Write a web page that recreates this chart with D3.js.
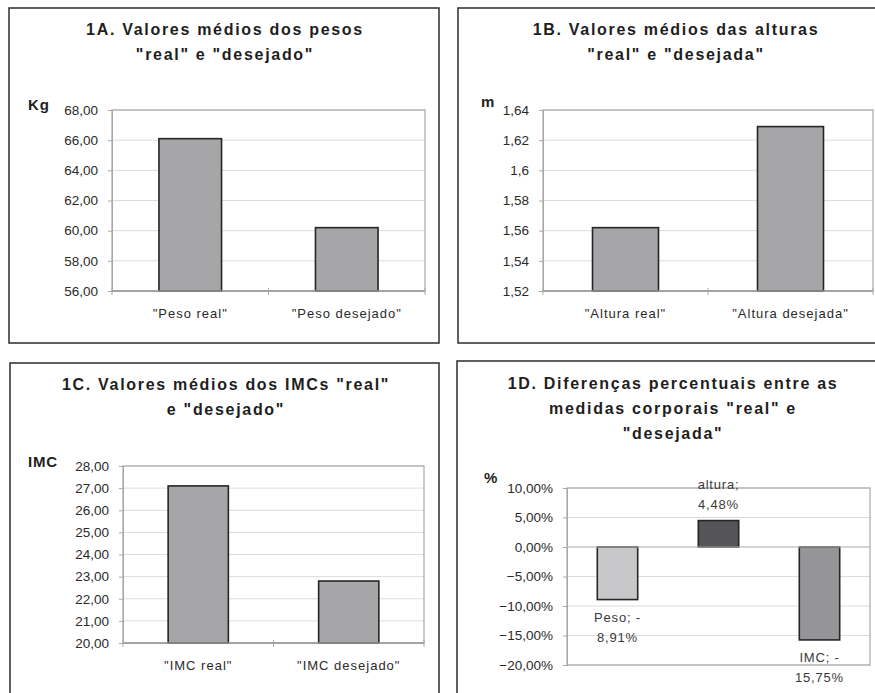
<!DOCTYPE html>
<html><head><meta charset="utf-8">
<script src="https://cdn.jsdelivr.net/npm/d3@7"></script>
<style>
body{margin:0;background:#fff;}
svg{display:block;font-family:"Liberation Sans",Arial,sans-serif;}
</style></head>
<body><svg id="c" width="875" height="693"></svg>
<script>
// ---- Data ----
const catsA = ['"Peso real"', '"Peso desejado"'];
const valsA = [66.1, 60.2];
const ticksA = [56, 58, 60, 62, 64, 66, 68];

const catsB = ['"Altura real"', '"Altura desejada"'];
const valsB = [1.562, 1.629];
const ticksB = [1.52, 1.54, 1.56, 1.58, 1.6, 1.62, 1.64];

const catsC = ['"IMC real"', '"IMC desejado"'];
const valsC = [27.1, 22.8];
const ticksC = [20, 21, 22, 23, 24, 25, 26, 27, 28];

const catsD = ['Peso', 'altura', 'IMC'];
const valsD = [-8.91, 4.48, -15.75];
const labelsD = [['Peso; -', '8,91%'], ['altura;', '4,48%'], ['IMC; -', '15,75%']];
const ticksD = [-20, -15, -10, -5, 0, 5, 10];

const svg = d3.select('#c');
const comma = s => s.replace('.', ',');
const f2 = v => comma(d3.format('.2f')(v));
const fg = v => comma(d3.format('~g')(v));
const fp = v => comma(d3.format('.2f')(v)) + '%';

function panel(o) {
  const g = svg.append('g');
  g.append('rect').attr('x', o.box[0]).attr('y', o.box[1])
    .attr('width', o.box[2] - o.box[0]).attr('height', o.box[3] - o.box[1])
    .attr('fill', '#fff').attr('stroke', '#3a3a3a').attr('stroke-width', 1.6);
  o.title.forEach((t, i) => {
    g.append('text').attr('x', o.tx).attr('y', o.ty + i * 25)
      .attr('text-anchor', 'middle').attr('font-weight', 'bold')
      .attr('font-size', 16).attr('letter-spacing', 1.7).attr('fill', '#1e1e1e').text(t);
  });
  g.append('text').attr('x', o.unit[0]).attr('y', o.unit[1])
    .attr('font-weight', 'bold').attr('font-size', 15).attr('letter-spacing', 0.8)
    .attr('fill', '#1e1e1e').text(o.unit[2]);

  const [x0, y0, x1, y1] = o.plot;
  const x = d3.scaleBand().domain(o.cats).range([x0, x1]).paddingInner(0.6).paddingOuter(0.3);
  const y = d3.scaleLinear().domain(d3.extent(o.ticks)).range([y1, y0]);

  // gridlines
  g.append('g').selectAll('line').data(o.ticks).join('line')
    .attr('x1', x0).attr('x2', x1).attr('y1', d => y(d)).attr('y2', d => y(d))
    .attr('stroke', '#dcdcdc').attr('stroke-width', 1);
  g.append('rect').attr('x', x0).attr('y', y0).attr('width', x1 - x0).attr('height', y1 - y0)
    .attr('fill', 'none').attr('stroke', '#a8a8a8').attr('stroke-width', 1.2);

  // y axis
  const ya = g.append('g').attr('transform', `translate(${x0},0)`)
    .call(d3.axisLeft(y).tickValues(o.ticks).tickFormat(o.fmt).tickSize(4).tickPadding(10));
  ya.select('.domain').attr('stroke', '#a8a8a8');
  ya.selectAll('.tick line').attr('stroke', '#a8a8a8');
  ya.selectAll('text').attr('font-size', 13.5).attr('fill', '#2a2a2a')
    .attr('font-family', '"Liberation Sans",Arial,sans-serif');

  // bars
  g.append('g').selectAll('rect').data(o.vals).join('rect')
    .attr('x', (d, i) => x(o.cats[i])).attr('width', x.bandwidth())
    .attr('y', d => y(Math.max(d, o.base))).attr('height', d => Math.abs(y(d) - y(o.base)))
    .attr('fill', (d, i) => o.colors[i]).attr('stroke', '#262626').attr('stroke-width', 1.6);

  if (o.base === o.ticks[0]) {
    const seps = d3.range(o.cats.length + 1).map(i => x0 + i * (x1 - x0) / o.cats.length);
    g.append('line').attr('x1', x0).attr('x2', x1).attr('y1', y1).attr('y2', y1)
      .attr('stroke', '#999').attr('stroke-width', 1.4);
    g.append('g').selectAll('line').data(seps).join('line')
      .attr('x1', d => d).attr('x2', d => d).attr('y1', y1 - 3).attr('y2', y1 + 4)
      .attr('stroke', '#aaa');
    g.append('g').selectAll('text').data(o.cats).join('text')
      .attr('x', d => x(d) + x.bandwidth() / 2).attr('y', y1 + 27)
      .attr('text-anchor', 'middle').attr('font-size', 13).attr('letter-spacing', 1)
      .attr('fill', '#2a2a2a').text(d => d);
  }
  if (o.labels) {
    g.append('line').attr('x1', x0).attr('x2', x1).attr('y1', y(0)).attr('y2', y(0))
      .attr('stroke', '#bbb');
    o.labels.forEach((lab, i) => {
      const v = o.vals[i];
      const cx = x(o.cats[i]) + x.bandwidth() / 2;
      const yy = v >= 0 ? y(v) - 32 : y(v) + 22;
      lab.forEach((t, j) => {
        g.append('text').attr('x', cx).attr('y', yy + j * 20)
          .attr('text-anchor', 'middle').attr('font-size', 13).attr('letter-spacing', 0.8)
          .attr('fill', '#3a3a3a').text(t);
      });
    });
  }
}

panel({box: [9, 8, 439, 343], title: ['1A. Valores médios dos pesos', '"real" e "desejado"'],
  tx: 225, ty: 35, unit: [28, 110, 'Kg'], plot: [112, 110, 425, 291],
  cats: catsA, vals: valsA, ticks: ticksA, base: 56, fmt: f2, colors: ['#a6a6a8', '#a6a6a8']});
panel({box: [458, 8, 876, 343], title: ['1B. Valores médios das alturas', '"real" e "desejada"'],
  tx: 676, ty: 35, unit: [481, 107, 'm'], plot: [543, 110, 873, 291],
  cats: catsB, vals: valsB, ticks: ticksB, base: 1.52, fmt: fg, colors: ['#a6a6a8', '#a6a6a8']});
panel({box: [10, 363, 439, 702], title: ['1C. Valores médios dos IMCs "real"', 'e "desejado"'],
  tx: 226, ty: 390, unit: [28, 467, 'IMC'], plot: [123, 466, 424, 643],
  cats: catsC, vals: valsC, ticks: ticksC, base: 20, fmt: f2, colors: ['#a6a6a8', '#a6a6a8']});
panel({box: [457, 361, 876, 702], title: ['1D. Diferenças percentuais entre as', 'medidas corporais "real" e', '"desejada"'],
  tx: 673, ty: 389, unit: [484, 483, '%'], plot: [567, 488, 870, 665],
  cats: catsD, vals: valsD, ticks: ticksD, base: 0, fmt: fp, colors: ['#c8c8ca', '#555557', '#959597'],
  labels: labelsD});
</script></body></html>
